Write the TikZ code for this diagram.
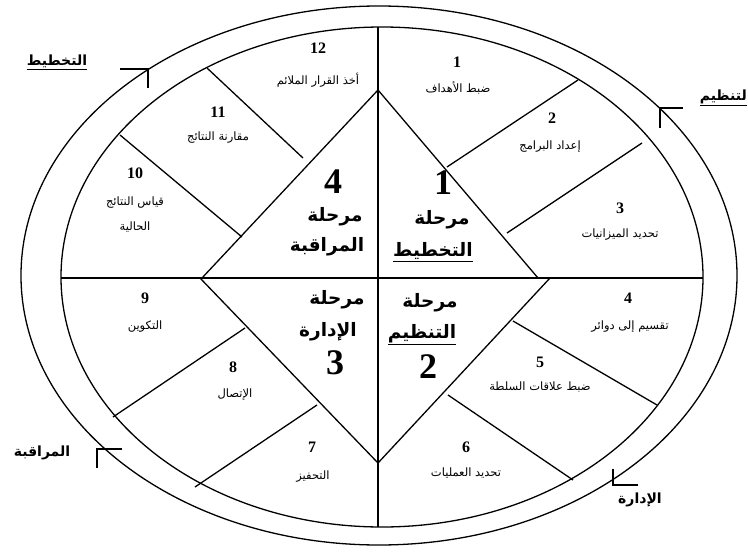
\documentclass[tikz,border=0pt]{standalone}
\usepackage{fontspec}
\setmainfont{Liberation Serif}
\newfontfamily\ar[Script=Arabic]{DejaVu Sans}
\TeXXeTstate=1
\newcommand{\AR}[1]{\beginR #1\endR}
\newcommand{\ARul}[1]{\underline{\hbox{\beginR #1\endR}}}
\begin{document}
\begin{tikzpicture}[x=1pt,y=-1pt,
  ln/.style={line width=1.3pt},
  cross/.style={line width=1.8pt},
  segnum/.style={font=\bfseries\fontsize{16}{16}\selectfont, inner sep=0pt},
  seglab/.style={font=\ar\fontsize{11.5}{14}\selectfont, inner sep=0pt, align=center},
  bignum/.style={font=\bfseries\fontsize{36}{36}\selectfont, inner sep=0pt},
  stage/.style={font=\ar\bfseries\fontsize{18.5}{20}\selectfont, inner sep=0pt},
  side/.style={font=\ar\bfseries\fontsize{14}{16}\selectfont, inner sep=0pt}]
\useasboundingbox (0,0) rectangle (748,552);
\fill[white] (0,0) rectangle (748,552);
% ellipses
\draw[ln] (379,275.5) ellipse [x radius=358pt, y radius=269.5pt];
\draw[ln] (382,277) ellipse [x radius=321pt, y radius=250pt];
% cross
\coordinate (VT) at (378,27);
\coordinate (VB) at (378,527);
\coordinate (HL) at (61,278);
\coordinate (HR) at (703,278);
\draw[cross] (VT) -- (VB);
\draw[cross] (HL) -- (HR);
% diamond
\coordinate (DT) at (378,90);
\coordinate (DR1) at (538,278);
\coordinate (DR2) at (550,278);
\coordinate (DB) at (378,463);
\coordinate (DL1) at (200,278);
\coordinate (DL2) at (202,278);
\draw[ln] (DT) -- (DR1);
\draw[ln] (DR2) -- (DB);
\draw[ln] (DB) -- (DL1);
\draw[ln] (DL2) -- (DT);
% dividers
\draw[ln] (447,167) -- (578,80);
\draw[ln] (507,233) -- (642,143);
\draw[ln] (513,321) -- (657,405);
\draw[ln] (448,395) -- (573,480);
\draw[ln] (245,328) -- (113,417);
\draw[ln] (317,405) -- (195,487);
\draw[ln] (207,68) -- (303,158);
\draw[ln] (120,135) -- (242,237);
% ticks
\draw[ln] (120,69) -- (148,69) -- (148,88);
\draw[ln] (683,108) -- (660,108) -- (660,128);
\draw[ln] (122,449) -- (97,449) -- (97,468);
\draw[ln] (613,469) -- (613,485) -- (638,485);
% side labels
\node[side] (sPlan) at (57,62) {\ARul{التخطيط}};
\node[side, anchor=east] (sOrg) at (747,98) {\ARul{لتنظيم}};
\node[side] (sCtrl) at (42,453) {\AR{المراقبة}};
\node[side] (sLead) at (640,500) {\AR{الإدارة}};
% stage labels
\node[bignum] (b1) at (443,183) {1};
\node[stage] (st1a) at (442,220) {\AR{مرحلة}};
\node[stage] (st1b) at (433,252) {\ARul{التخطيط}};
\node[bignum] (b4) at (333,182) {4};
\node[stage] (st4a) at (335,217) {\AR{مرحلة}};
\node[stage] (st4b) at (327,247) {\AR{المراقبة}};
\node[stage] (st3a) at (337,300) {\AR{مرحلة}};
\node[stage] (st3b) at (328,332) {\AR{الإدارة}};
\node[bignum] (b3) at (335,363) {3};
\node[stage] (st2a) at (430,303) {\AR{مرحلة}};
\node[stage] (st2b) at (422,335) {\ARul{التنظيم}};
\node[bignum] (b2) at (428,367) {2};
% segment labels
\node[segnum] (n1) at (457,62) {1};
\node[seglab] (l1) at (458,88) {\AR{ضبط الأهداف}};
\node[segnum] (n2) at (552,118) {2};
\node[seglab] (l2) at (550,147) {\AR{إعداد البرامج}};
\node[segnum] (n3) at (620,208) {3};
\node[seglab] (l3) at (620,235) {\AR{تحديد الميزانيات}};
\node[segnum] (n4) at (628,298) {4};
\node[seglab] (l4) at (630,327) {\AR{تقسيم إلى دوائر}};
\node[segnum] (n5) at (540,362) {5};
\node[seglab] (l5) at (540,387) {\AR{ضبط علاقات السلطة}};
\node[segnum] (n6) at (466,447) {6};
\node[seglab] (l6) at (466,473) {\AR{تحديد العمليات}};
\node[segnum] (n7) at (312,447) {7};
\node[seglab] (l7) at (313,477) {\AR{التحفيز}};
\node[segnum] (n8) at (233,367) {8};
\node[seglab] (l8) at (235,395) {\AR{الإتصال}};
\node[segnum] (n9) at (145,298) {9};
\node[seglab] (l9) at (145,327) {\AR{التكوين}};
\node[segnum] (n10) at (135,173) {10};
\node[seglab] (l10a) at (135,203) {\AR{قياس النتائج}};
\node[seglab] (l10b) at (135,227) {\AR{الحالية}};
\node[segnum] (n11) at (218,112) {11};
\node[seglab] (l11) at (218,138) {\AR{مقارنة النتائج}};
\node[segnum] (n12) at (318,48) {12};
\node[seglab] (l12) at (318,80) {\AR{أخذ القرار الملائم}};
\end{tikzpicture}
\end{document}
